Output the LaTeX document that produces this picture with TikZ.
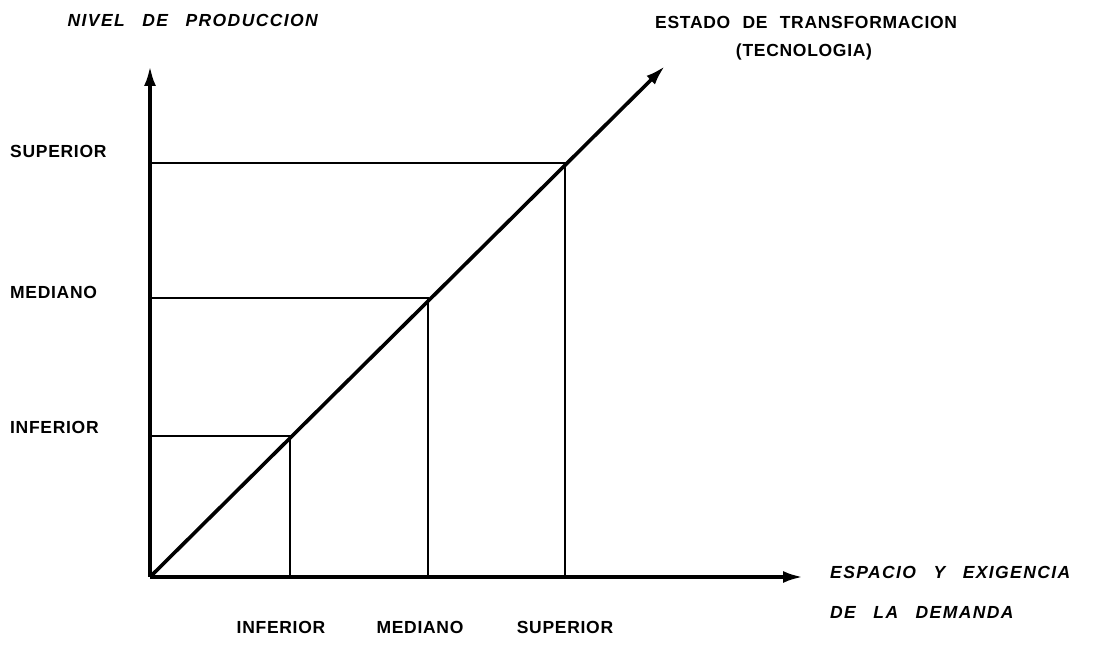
\documentclass[tikz,border=0pt]{standalone}
\usepackage{fontspec}
\setmainfont{Liberation Sans}
\newfontfamily\lettering[WordSpace=2.2,LetterSpace=4]{Liberation Sans}
\newfontfamily\slantlettering[WordSpace=2.8,LetterSpace=8]{Liberation Sans}
\usetikzlibrary{arrows.meta, positioning}

\begin{document}
\begin{tikzpicture}[x=1pt, y=1pt, every node/.style={inner sep=0pt, font=\lettering\fontsize{17.5}{20}\bfseries}]
    \tikzset{axis/.style={line width=3.6pt, -{Latex[length=20pt, width=12pt]}},
             guide/.style={line width=1.4pt},
             slanted/.style={font=\slantlettering\fontsize{17.5}{20}\bfseries\itshape}}
    \useasboundingbox (0,0) rectangle (1098,645);
    \coordinate (O) at (150,68);
    \coordinate (Ytop) at (150,579);
    \coordinate (Xend) at (803,68);
    \coordinate (Tend) at (665,579);
    \coordinate (Pinf) at (290,209);
    \coordinate (Pmed) at (428,347);
    \coordinate (Psup) at (565,482);
    % guide lines
    \draw[guide] (O |- Pinf) -| (O -| Pinf);
    \draw[guide] (O |- Pmed) -| (O -| Pmed);
    \draw[guide] (O |- Psup) -| (O -| Psup);
    % axes
    \draw[axis] (O) -- (Ytop);
    \draw[axis] (O) -- (Xend);
    \draw[axis] (O) -- (Tend);
    % labels
    \node[slanted, anchor=east] (nivel) at (318,625) {NIVEL DE PRODUCCION};
    \node[anchor=west] (estado) at (655,623) {ESTADO DE TRANSFORMACION};
    \node (tecno) at (804,593) {(TECNOLOGIA)};
    \node[anchor=west] (ysup) at (10,494) {SUPERIOR};
    \node[anchor=west] (ymed) at (10,353) {MEDIANO};
    \node[anchor=west] (yinf) at (10,218) {INFERIOR};
    \node (xinf) at (281,18) {INFERIOR};
    \node (xmed) at (420,18) {MEDIANO};
    \node (xsup) at (565,18) {SUPERIOR};
    \node[slanted, anchor=west] (espacio) at (830,73) {ESPACIO Y EXIGENCIA};
    \node[slanted, below=40pt of espacio.west, anchor=west] (demanda) {DE LA DEMANDA};
\end{tikzpicture}
\end{document}
